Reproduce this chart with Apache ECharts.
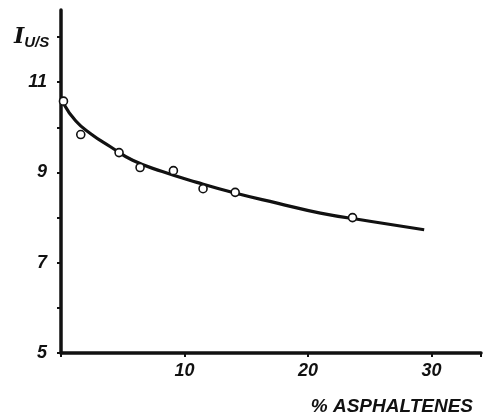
<!DOCTYPE html>
<html><head><meta charset="utf-8">
<script src="https://cdn.jsdelivr.net/npm/echarts@6/dist/echarts.min.js"></script>
<style>html,body{margin:0;padding:0;background:#fff}#c{width:484px;height:416px}</style>
</head><body><div id="c"></div>
<script>
// measured points (% asphaltenes, I U/S)
const pointX = [0.2, 1.6, 4.7, 6.4, 9.1, 11.5, 14.1, 23.6];
const pointY = [10.58, 9.84, 9.44, 9.11, 9.04, 8.64, 8.56, 8.0];
// fitted curve
const curveX = [0.2, 1.2, 2.4, 4.0, 5.8, 8.2, 11.0, 14.0, 17.5, 21.0, 25.0, 29.4];
const curveY = [10.53, 10.14, 9.86, 9.57, 9.27, 9.02, 8.78, 8.55, 8.32, 8.1, 7.92, 7.73];
const xTickLabels = ['10', '20', '30'];
const yTickLabels = ['5', '7', '9', '11'];

const font = '"Liberation Sans", Arial, sans-serif';
const chart = echarts.init(document.getElementById('c'));
chart.setOption({
  backgroundColor: '#fff',
  animation: false,
  title: {
    left: 9, top: 20,
    text: '{a|I}{b|U/S}',
    textStyle: {
      rich: {
        a: {fontFamily: 'DejaVu Serif', fontStyle: 'italic', fontWeight: 'bold', fontSize: 22, color: '#111'},
        b: {fontFamily: font, fontStyle: 'italic', fontWeight: 'bold', fontSize: 15, color: '#111', padding: [10, 0, 0, 0]}
      }
    }
  },
  grid: {left: 61, right: 0, top: 10, bottom: 63},
  xAxis: {
    type: 'value', min: 0, max: 34, interval: 10,
    name: '% ASPHALTENES', nameLocation: 'end', nameGap: 0,
    nameTextStyle: {fontFamily: font, fontStyle: 'italic', fontWeight: 'bold', fontSize: 19, color: '#111',
      align: 'right', verticalAlign: 'top', padding: [44, 8, 0, 0]},
    axisLine: {lineStyle: {color: '#111', width: 3.5}},
    axisTick: {show: true, length: 4, inside: false, lineStyle: {color: '#111', width: 2}},
    splitLine: {show: false},
    axisLabel: {
      fontFamily: font, fontStyle: 'italic', fontWeight: 'bold', fontSize: 18, color: '#111', margin: 9,
      formatter: v => xTickLabels.includes(String(v)) ? String(v) : ''
    }
  },
  yAxis: {
    type: 'value', min: 5, max: 12.6, interval: 1,
    axisLine: {show: true, lineStyle: {color: '#111', width: 3.5}},
    axisTick: {show: true, length: 4, lineStyle: {color: '#111', width: 2}},
    splitLine: {show: false},
    axisLabel: {
      fontFamily: font, fontStyle: 'italic', fontWeight: 'bold', fontSize: 18, color: '#111', margin: 14,
      showMaxLabel: false,
      formatter: v => yTickLabels.includes(String(v)) ? String(v) : ''
    }
  },
  series: [
    {
      type: 'line', smooth: 0.5, showSymbol: false,
      data: curveX.map((x, i) => [x, curveY[i]]),
      lineStyle: {color: '#111', width: 3.2}, z: 2
    },
    {
      type: 'scatter', symbol: 'circle', symbolSize: 8,
      data: pointX.map((x, i) => [x, pointY[i]]),
      itemStyle: {color: '#fff', borderColor: '#111', borderWidth: 1.6, opacity: 1}, z: 3
    }
  ]
});
</script></body></html>
